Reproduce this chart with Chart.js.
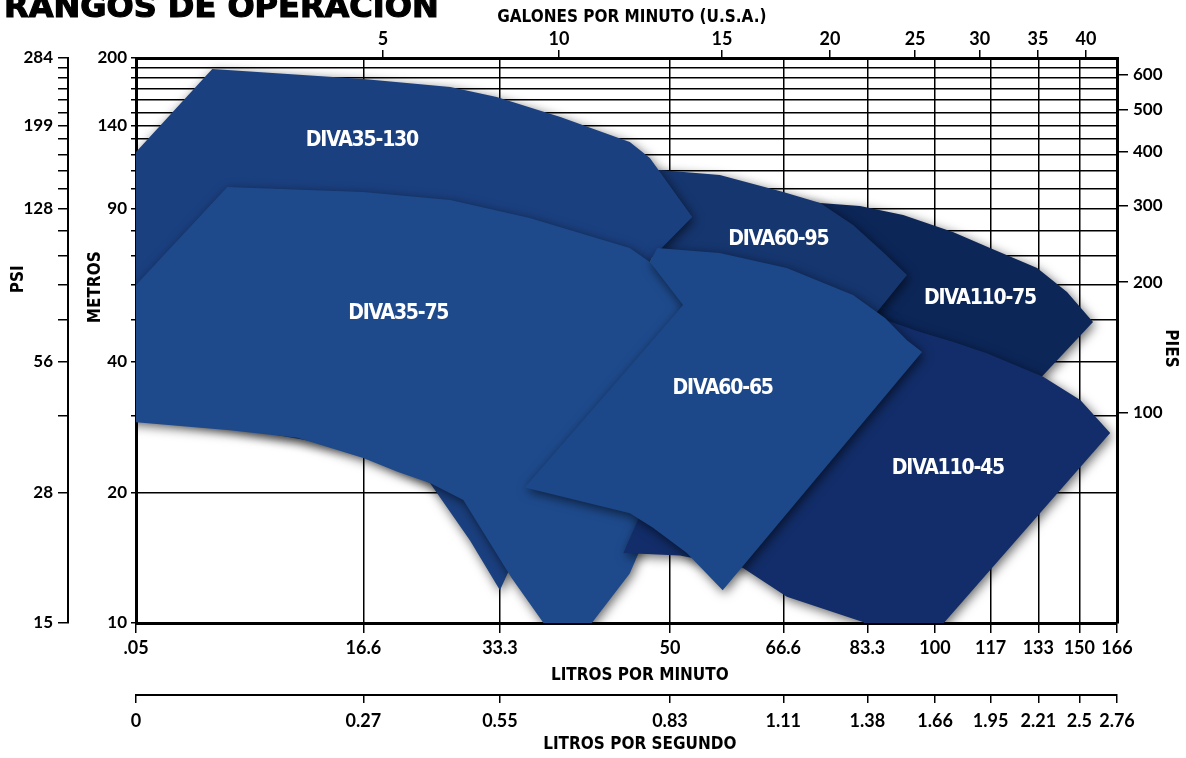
<!DOCTYPE html>
<html lang="es"><head><meta charset="utf-8">
<script src="https://cdn.jsdelivr.net/npm/chart.js@4.4.1/dist/chart.umd.min.js"></script>
<style>
html,body{margin:0;padding:0;background:#fff;overflow:hidden}
#wrap{position:relative;width:1186px;height:758px;overflow:hidden;background:#fff}
#c{position:absolute;left:0;top:0}
#ttl{position:absolute;left:4px;top:-10px;margin:0;font:bold 32px/32px "DejaVu Sans",sans-serif;-webkit-text-stroke:1.2px #000;color:#000;white-space:nowrap;z-index:2}
</style></head><body>
<div id="wrap"><canvas id="c" width="1186" height="758"></canvas><div id="ttl">RANGOS DE OPERACIÓN</div></div>
<script>
// ---------- axis values ----------
const lpmTicks  = [0.05, 16.6, 33.3, 50, 66.6, 83.3, 100, 117, 133, 150, 166];
const lpmLabels = ['.05','16.6','33.3','50','66.6','83.3','100','117','133','150','166'];
const lpsLabels = ['0','0.27','0.55','0.83','1.11','1.38','1.66','1.95','2.21','2.5','2.76'];
const gpmTicks  = [5, 10, 15, 20, 25, 30, 35, 40];
const meterTicks = [10,20,30,40,50,60,70,80,90,100,110,120,130,140,150,160,170,180,190,200];
const meterLabelled = [10, 20, 40, 90, 140, 200];
const psiLabels = ['15','28','56','128','199','284'];
const feetTicks = [100, 200, 300, 400, 500, 600];
const LPM_PER_GPM = 3.785;
const M_TO_FT = 3.28084;

// ---------- series: operating regions [litros/min, metros] ----------
const seriesNames = ['DIVA110-75','DIVA60-95','DIVA35-130','DIVA35-75','DIVA110-45','DIVA60-65'];
const diva110_75 = [[56.5,94.2],[71.2,93.2],[81.8,91.3],[91.8,87.0],[105.4,79.5],[116.8,73.0],[132.2,65.7],[144.9,57.8],[154.7,49.3],[135.0,37.2],[120.1,29.3],[86.3,40.3],[62.9,55.4]];
const diva60_95  = [[46.7,104.7],[48.9,110.4],[56.5,107.5],[66.6,98.3],[73.8,92.7],[80.4,82.5],[87.0,71.5],[92.7,63.3],[85.6,52.0],[69.9,29.3],[51.3,47.3]];
const diva35_130 = [[-5.5,78.3],[5.6,188.7],[16.6,178.9],[27.2,171.5],[32.9,162.6],[38.0,146.3],[45.6,128.2],[47.8,117.7],[52.9,86.1],[48.0,69.2],[33.3,11.9],[29.6,15.5],[24.7,21.0],[16.6,25.0],[0.05,30.9],[-5.5,32.6]];
const diva35_75  = [[-5.5,38.9],[6.7,100.9],[16.6,98.3],[27.2,94.2],[35.6,85.6],[45.6,73.0],[47.8,67.8],[53.9,58.4],[58.1,44.8],[45.6,13.0],[38.3,8.2],[36.6,10.05],[34.2,12.7],[28.8,19.2],[24.7,21.0],[20.7,22.3],[16.6,24.0],[11.8,26.7],[6.9,27.8],[0.05,29.0],[-5.5,29.7]];
const diva110_45 = [[53.9,36.3],[69.9,46.0],[86.3,50.4],[96.0,46.8],[105.4,44.4],[115.8,41.8],[135.0,36.9],[150.2,32.6],[162.8,27.4],[94.6,8.4],[82.4,10.05],[67.3,11.5],[60.1,13.4],[51.3,14.3],[44.9,14.5]];
const diva60_65  = [[48.6,73.0],[56.5,71.1],[67.3,65.7],[80.4,56.9],[87.5,50.4],[92.7,44.8],[96.5,42.1],[56.9,11.9],[52.2,14.5],[48.1,16.6],[45.6,17.9],[35.2,20.5],[45.6,38.9],[51.7,54.0],[47.8,67.8]];
const seriesData = [diva110_75, diva60_95, diva35_130, diva35_75, diva110_45, diva60_65];
const labelLpm = [113.6, 65.8, 16.5, 20.8, 103.9, 56.9];
const labelM   = [56.0, 76.2, 128.8, 51.7, 22.7, 34.6];

// ---------- styling ----------
const seriesColors = ['#0c2658','#163670','#1b4080','#1e4a8c','#122d69','#1c4788'];
const seriesOrder  = [6, 5, 4, 3, 2, 1];   // lower = drawn on top

// nonlinear flow axis of the original sheet: value knots -> fraction of axis length
const axisKnotsLpm = [0.05,16.6,18.93,33.3,37.85,50,56.78,66.6,75.7,83.3,94.6,100,113.6,117,132.5,133,150,151.4,166];
const axisKnotsPos = [0,0.2317,0.2518,0.3710,0.4312,0.5443,0.5973,0.6598,0.7074,0.7455,0.7941,0.8145,0.8603,0.8712,0.9195,0.9198,0.9616,0.9684,1];

function lpmToFrac(v){
  const V = axisKnotsLpm, F = axisKnotsPos;
  let i = 0;
  if (v >= V[V.length-1]) i = V.length-2;
  else if (v > V[0]) { while (v > V[i+1]) i++; }
  return F[i] + (v - V[i]) / (V[i+1] - V[i]) * (F[i+1] - F[i]);
}
function fracToLpm(f){
  const V = axisKnotsLpm, F = axisKnotsPos;
  let i = 0;
  if (f >= F[F.length-1]) i = F.length-2;
  else if (f > F[0]) { while (f > F[i+1]) i++; }
  return V[i] + (f - F[i]) / (F[i+1] - F[i]) * (V[i+1] - V[i]);
}

class PiecewiseScale extends Chart.LinearScale {
  static id = 'piecewise';
  static defaults = {};
  getPixelForValue(value){ return value === null ? NaN : this.getPixelForDecimal(lpmToFrac(value)); }
  getValueForPixel(pixel){ return fracToLpm(this.getDecimalForPixel(pixel)); }
}
Chart.register(PiecewiseScale);

const TICK_FONT_X = {family:"Lato, 'Open Sans', sans-serif", weight:'bold', size:18};
const TICK_FONT_Y = {family:"Lato, 'Open Sans', sans-serif", weight:'bold', size:17};
const TITLE_FONT  = {family:"'Liberation Sans Narrow','DejaVu Sans Condensed','Arial Narrow',sans-serif", weight:'bold', size:17};
const sp = n => ' '.repeat(n);

const shadowPlugin = {
  id:'shadowPlugin',
  beforeDatasetsDraw(chart){ const c = chart.ctx; c.save(); c.shadowColor='rgba(0,0,0,0.6)'; c.shadowBlur=11; c.shadowOffsetX=2; c.shadowOffsetY=3; },
  afterDatasetsDraw(chart){ chart.ctx.restore(); }
};
const labelPlugin = {
  id:'labelPlugin',
  afterDatasetsDraw(chart){
    const c = chart.ctx, xs = chart.scales.x, ys = chart.scales.y;
    c.save();
    c.font = "bold 21px 'Liberation Sans Narrow','DejaVu Sans Condensed',sans-serif";
    try { c.letterSpacing = '-1.2px'; } catch(e) {}
    c.fillStyle = '#fff'; c.textAlign = 'center'; c.textBaseline = 'middle';
    seriesNames.forEach((n,i)=> c.fillText(n, xs.getPixelForValue(labelLpm[i]), ys.getPixelForValue(labelM[i])));
    c.restore();
  }
};

const datasets = seriesNames.map((n,i)=>({
  label:n, data:seriesData[i], backgroundColor:seriesColors[i], borderColor:'rgba(0,0,0,0)', borderWidth:0,
  fill:'shape', pointRadius:0, tension:0, order:seriesOrder[i], clip:0, xAxisID:'x', yAxisID:'y'
}));

const setTicks = vals => s => { s.ticks = vals.map(v=>({value:v})); };
const fixW = w => s => { s.width = w; };
const fixH = h => s => { s.height = h; };

new Chart(document.getElementById('c'), {
  type:'line',
  data:{ datasets },
  plugins:[shadowPlugin, labelPlugin],
  options:{
    responsive:false, animation:false, devicePixelRatio:1,
    layout:{padding:0, autoPadding:false},
    plugins:{legend:{display:false}, tooltip:{enabled:false}},
    scales:{
      gx:{type:'piecewise', position:'bottom', weight:0, min:0.05, max:166,
          afterBuildTicks:setTicks(lpmTicks), afterFit:fixH(0),
          ticks:{display:false}, border:{display:false},
          grid:{drawOnChartArea:true, drawTicks:false, color:'#000', lineWidth:1.5}},
      gy:{type:'logarithmic', position:'left', weight:0, min:10, max:200,
          afterBuildTicks:setTicks(meterTicks), afterFit:fixW(0),
          ticks:{display:false}, border:{display:false},
          grid:{drawOnChartArea:true, drawTicks:false, color:'#000', lineWidth:1.5}},
      x:{type:'piecewise', position:'bottom', weight:1, z:1, min:0.05, max:166,
         afterBuildTicks:setTicks(lpmTicks), afterFit:fixH(72),
         ticks:{autoSkip:false, maxRotation:0, padding:4, color:'#000', font:TICK_FONT_X, callback:(v,i)=>lpmLabels[i]},
         grid:{drawOnChartArea:false, tickLength:10, color:'#000', lineWidth:1.5},
         border:{display:true, color:'#000', width:3},
         title:{display:true, text:sp(5)+'LITROS POR MINUTO', color:'#000', font:TITLE_FONT, padding:{top:0,bottom:9}}},
      xs:{type:'piecewise', position:'bottom', weight:2, z:1, min:0.05, max:166,
          afterBuildTicks:setTicks(lpmTicks), afterFit:fixH(63),
          ticks:{autoSkip:false, maxRotation:0, padding:7, color:'#000', font:TICK_FONT_X, callback:(v,i)=>lpsLabels[i]},
          grid:{drawOnChartArea:false, tickLength:8, color:'#000', lineWidth:1.5},
          border:{display:true, color:'#000', width:2},
          title:{display:true, text:sp(5)+'LITROS POR SEGUNDO', color:'#000', font:TITLE_FONT, padding:{top:0,bottom:3}}},
      xt:{type:'piecewise', position:'top', weight:1, z:1, min:0.05, max:166,
          afterBuildTicks:setTicks(gpmTicks.map(g=>g*LPM_PER_GPM)), afterFit:fixH(58),
          ticks:{autoSkip:false, maxRotation:0, padding:0, color:'#000', font:TICK_FONT_X, callback:(v,i)=>String(gpmTicks[i])},
          grid:{drawOnChartArea:false, tickLength:8, color:'#000', lineWidth:1.5},
          border:{display:true, color:'#000', width:3},
          title:{display:true, text:sp(2)+'GALONES POR MINUTO (U.S.A.)', color:'#000', font:TITLE_FONT, padding:{top:7,bottom:0}}},
      y:{type:'logarithmic', position:'left', weight:1, z:1, min:10, max:200,
         afterBuildTicks:setTicks(meterTicks), afterFit:fixW(68),
         ticks:{autoSkip:false, padding:4, color:'#000', font:TICK_FONT_Y, callback:v=>meterLabelled.includes(v)?String(v):''},
         grid:{drawOnChartArea:false, tickLength:5, color:'#000', lineWidth:1.5},
         border:{display:true, color:'#000', width:3},
         title:{display:true, text:sp(20)+'METROS', color:'#000', font:TITLE_FONT, padding:{top:17,bottom:0}}},
      yp:{type:'logarithmic', position:'left', weight:2, z:1, min:10, max:200,
          afterBuildTicks:setTicks(meterTicks), afterFit:fixW(68),
          ticks:{autoSkip:false, padding:5, color:'#000', font:TICK_FONT_Y, callback:v=>{const k=meterLabelled.indexOf(v);return k>=0?psiLabels[k]:'';}},
          grid:{drawOnChartArea:false, tickLength:10, color:'#000', lineWidth:1.5},
          border:{display:true, color:'#000', width:2},
          title:{display:true, text:sp(23)+'PSI', color:'#000', font:TITLE_FONT, padding:{top:8,bottom:0}}},
      yf:{type:'logarithmic', position:'right', weight:1, z:1, min:10*M_TO_FT, max:200*M_TO_FT,
          afterBuildTicks:setTicks(feetTicks), afterFit:fixW(69),
          ticks:{autoSkip:false, padding:5, color:'#000', font:TICK_FONT_Y, callback:v=>String(v)},
          grid:{drawOnChartArea:false, tickLength:11, color:'#000', lineWidth:1.5},
          border:{display:true, color:'#000', width:3},
          title:{display:true, text:sp(3)+'PIES', color:'#000', font:TITLE_FONT, padding:{top:5,bottom:0}}}
    }
  }
});
</script></body></html>
